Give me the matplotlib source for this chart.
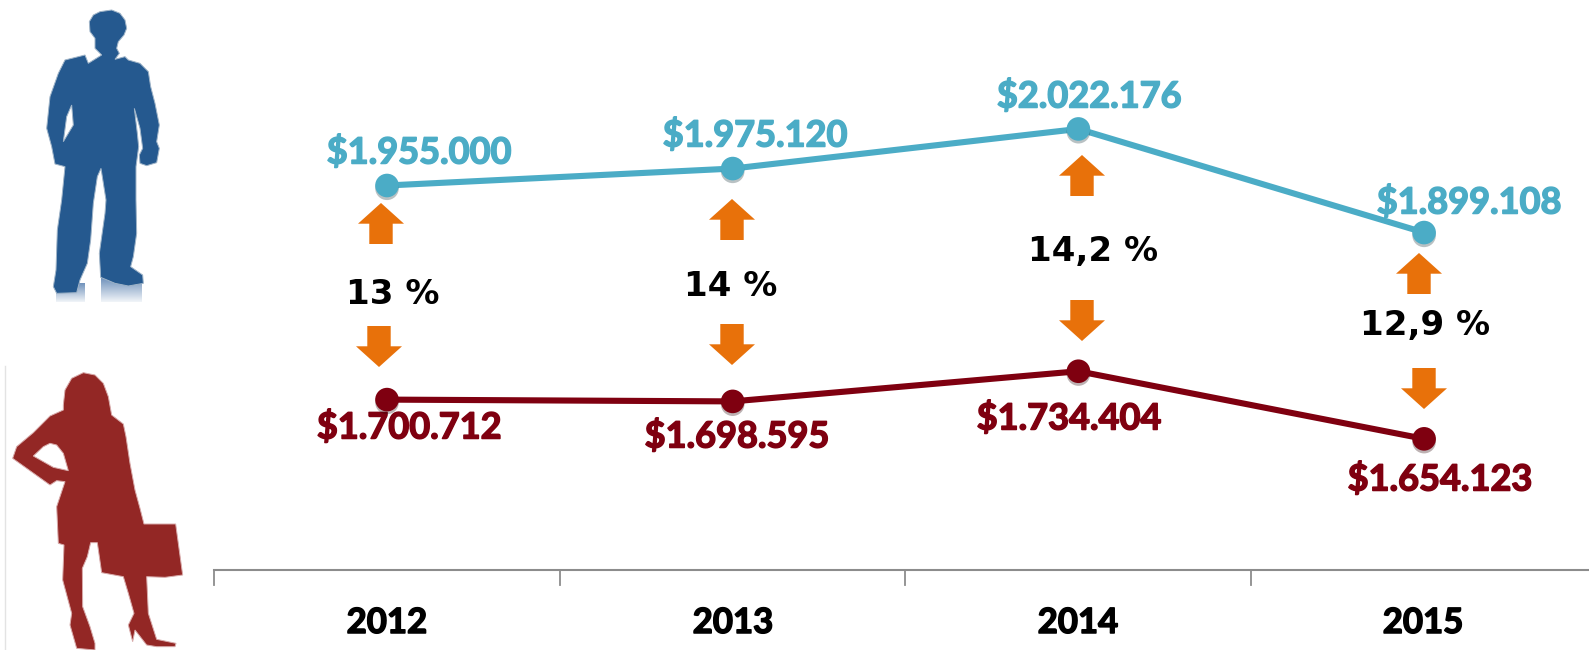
import matplotlib
matplotlib.use('Agg')
from matplotlib import pyplot as plt
import matplotlib.patches as patches
import matplotlib.patheffects as pe
from matplotlib.transforms import Affine2D
import numpy as np

years = ['2012', '2013', '2014', '2015']
men = [1955000, 1975120, 2022176, 1899108]
women = [1700712, 1698595, 1734404, 1654123]
men_labels = ['$1.955.000', '$1.975.120', '$2.022.176', '$1.899.108']
women_labels = ['$1.700.712', '$1.698.595', '$1.734.404', '$1.654.123']
gaps = ['13 %', '14 %', '14,2 %', '12,9 %']

BLUE = '#4BACC6'
RED = '#7F0010'
ORANGE = '#E8710A'
GREY = '#8C8C8C'
W, H = 1589, 650

# silhouettes, in 3x zoom pixels
man = [(300, 35), (335, 30), (360, 40), (375, 60), (380, 85), (372, 105), (355, 125), (350, 145), (358, 160), (345, 178),
       (375, 170), (385, 180), (420, 190), (445, 215), (452, 260), (465, 310), (478, 375), (470, 425), (478, 445), (470, 488),
       (440, 497), (420, 490), (418, 465), (428, 445), (420, 385), (403, 325), (412, 400), (416, 440), (408, 500), (408, 600),
       (410, 700), (400, 770), (392, 800), (428, 825), (430, 850), (385, 858), (345, 850), (302, 832), (298, 760), (315, 640),
       (318, 600), (303, 505), (292, 530), (280, 610), (272, 720), (262, 790), (240, 840), (230, 878), (170, 880), (160, 860),
       (168, 810), (172, 690), (185, 600), (195, 500), (165, 492), (155, 440), (140, 385), (150, 290), (175, 220), (195, 180),
       (255, 165), (265, 190), (305, 165), (285, 145), (285, 115), (270, 95), (268, 65), (280, 45)]
man_hole = [(215, 315), (200, 350), (190, 425), (220, 375)]
woman = [(190, 165), (195, 120), (215, 85), (250, 68), (285, 75), (310, 100), (325, 140), (335, 195), (370, 222), (378, 260),
         (390, 340), (405, 420), (420, 475), (432, 522), (527, 522), (548, 675), (495, 682), (440, 680), (445, 790), (470, 868),
         (528, 880), (525, 890), (470, 890), (440, 885), (405, 840), (398, 875), (385, 825), (402, 790), (385, 730), (370, 680),
         (305, 668), (292, 578), (272, 578), (262, 620), (247, 655), (248, 770), (270, 830), (285, 880), (285, 900), (230, 895),
         (210, 825), (215, 790), (188, 690), (192, 585), (175, 580), (170, 470), (195, 395), (170, 392), (150, 405), (38, 325),
         (50, 290), (100, 248), (150, 198), (190, 180)]
woman_hole = [(150, 280), (130, 290), (100, 318), (160, 352), (205, 362), (190, 310), (170, 285)]


def hole_path(outer, hole, dy):
    pts = np.array(outer + [outer[0]] + hole + [hole[0]], dtype=float) / 3 + [0, dy]
    codes = [1] + [2] * (len(outer) - 1) + [79] + [1] + [2] * (len(hole) - 1) + [79]
    return patches.Path(pts, codes)


def block_arrow(ax, px, tip, direction):
    shape = np.array([(0, 0), (23, 20.7), (11.7, 20.7), (11.7, 41), (-11.7, 41), (-11.7, 20.7), (-23, 20.7)])
    shape[:, 0] += px
    shape[:, 1] = tip + shape[:, 1] * direction
    ax.add_patch(patches.Polygon(shape, closed=True, color=ORANGE, lw=0, transform=pixels, clip_on=False))


def heavy(color, width=1.1):
    return [pe.Stroke(linewidth=width, foreground=color), pe.Normal()]


fig = plt.figure(figsize=(W / 100, H / 100), dpi=100)
ax = fig.add_axes([0, 0, 1, 1])
pixels = Affine2D().scale(1, -1).translate(0, H)

# x: 0 at 387 px, step 345.7 px ; y: same scale for both lines
step = 345.7
ax.set_xlim(-387 / step, (W - 387) / step)
k = 0.000842
ax.set_ylim(1955000 - (H - 185.5) / k, 1955000 + 185.5 / k)
ax.axis('off')

xs = np.arange(len(years))
for values, color in ((men, BLUE), (women, RED)):
    ax.plot(xs, values, color=color, lw=4.4, solid_capstyle='round', zorder=3)
    ax.plot(xs, values, 'o', color=color, ms=17, mew=0, zorder=4,
            path_effects=[pe.SimplePatchShadow(offset=(0, -2), alpha=0.3), pe.Normal()])

ax.plot([214, W], [570, 570], color=GREY, lw=1.5, transform=pixels)
for t in [214, 560, 905, 1251]:
    ax.plot([t, t], [570, 585], color=GREY, lw=1.3, transform=pixels)

men_pos = [(419, 152), (755, 135), (1089, 96), (1469, 202)]
women_pos = [(409, 427), (737, 436), (1069, 418), (1440, 479)]
pct_pos = [(393, 295), (731, 286), (1093, 252), (1425, 325)]
year_x = [387, 733, 1078, 1423]
for i in range(4):
    ax.text(*men_pos[i], men_labels[i], transform=pixels, color=BLUE, fontsize=26, fontweight='bold',
            family='Lato', ha='center', va='center', path_effects=heavy(BLUE))
    ax.text(*women_pos[i], women_labels[i], transform=pixels, color=RED, fontsize=26, fontweight='bold',
            family='Lato', ha='center', va='center', path_effects=heavy(RED))
    ax.text(*pct_pos[i], gaps[i], transform=pixels, color='black', fontsize=24.5, fontweight='bold',
            family='DejaVu Sans', ha='center', va='center')
    ax.text(year_x[i], 623, years[i], transform=pixels, color='black', fontsize=25, fontweight='bold',
            family='Lato', ha='center', va='center', path_effects=heavy('black'))

up_tips = [(381, 203), (732, 199), (1082, 155), (1419, 253)]
down_tips = [(379, 367), (732, 365), (1082, 341), (1424, 409)]
for i in range(4):
    block_arrow(ax, up_tips[i][0], up_tips[i][1], 1)
    block_arrow(ax, down_tips[i][0], down_tips[i][1], -1)

# foot reflections on the man
for x0, x1, y0 in ((56, 85, 283), (101, 142, 278)):
    rows = 302 - y0
    for j in range(rows):
        fade = j / rows
        shade = np.array([0.45, 0.58, 0.74]) * (1 - fade) + np.array([0.96, 0.97, 0.98]) * fade
        ax.add_patch(patches.Rectangle((x0, y0 + j), x1 - x0, 1, facecolor=shade, lw=0, antialiased=False,
                                       transform=pixels))

ax.add_patch(patches.PathPatch(hole_path(man, man_hole, 0), facecolor='#25598F', edgecolor='#9FB4C8', lw=0.7,
                               transform=pixels))
ax.add_patch(patches.PathPatch(hole_path(woman, woman_hole, 350), facecolor='#932725', edgecolor='#D8AAAA', lw=0.7,
                               transform=pixels))
ax.plot([4.5, 4.5], [366, 650], color='#E3E3E3', lw=1, transform=pixels)

fig.savefig('out.png', dpi=100)
